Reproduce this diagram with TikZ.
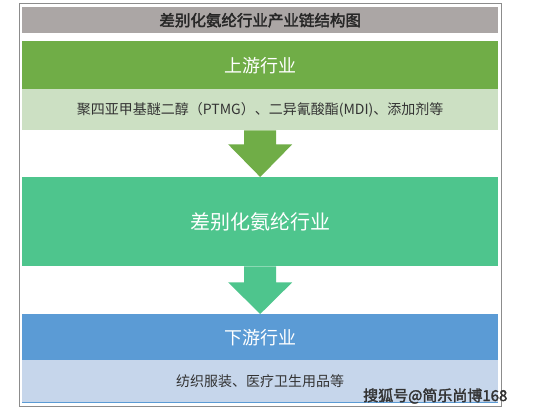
\documentclass[tikz,border=0pt]{standalone}
\usepackage{fontspec}
\newfontfamily\cjk{Noto Sans CJK SC}
\newfontfamily\cjkbold[FakeBold=2.2]{Noto Sans CJK SC}
\definecolor{frameGray}{HTML}{8C8C8C}
\definecolor{titleGray}{HTML}{ABA6A5}
\definecolor{upGreen}{HTML}{70AD47}
\definecolor{upLight}{HTML}{CCE0C3}
\definecolor{midGreen}{HTML}{4EC58D}
\definecolor{downBlue}{HTML}{5B9BD5}
\definecolor{downLight}{HTML}{C6D6EB}
\definecolor{textDark}{HTML}{333333}
\tikzset{
  band/.style={draw=none, minimum width=476pt, inner sep=0pt, anchor=north west},
  headtext/.style={text=white, font=\cjk\fontsize{18}{20}\selectfont},
  subtext/.style={text=textDark, font=\cjk\fontsize{14}{16}\selectfont},
}
\begin{document}
\begin{tikzpicture}[x=1pt,y=-1pt]
\useasboundingbox (0,0) rectangle (542,413);
\fill[white] (0,0) rectangle (542,413);
% outer frame
\draw[frameGray, line width=1pt] (19.5,3.5) rectangle (501,406);
% title
\node[band, fill=titleGray, minimum height=26pt, font=\cjkbold\fontsize{15.5}{18}\selectfont, text=black!85] (title) at (22,7) {差别化氨纶行业产业链结构图};
% upstream
\node[band, fill=upGreen, minimum height=48pt, headtext] (up) at (22,41) {上游行业};
\node[band, fill=upLight, minimum height=41pt, subtext] (upsub) at (22,89) {聚四亚甲基醚二醇（PTMG）、二异氰酸酯(MDI)、添加剂等};
% middle
\node[band, fill=midGreen, minimum height=89pt, text=white, font=\cjk\fontsize{20}{22}\selectfont] (mid) at (22,177) {差别化氨纶行业};
% downstream
\node[band, fill=downBlue, minimum height=46pt, headtext] (down) at (22,314) {下游行业};
\node[band, fill=downLight, minimum height=42pt, subtext] (downsub) at (22,360) {纺织服装、医疗卫生用品等};
\draw[downBlue, line width=1pt] (downsub.south west) -- (downsub.south east);
% arrows
\fill[upGreen] ([xshift=-16pt]upsub.south) -- ([xshift=16pt]upsub.south) -- ([xshift=16pt,yshift=-14pt]upsub.south) -- ([xshift=32pt,yshift=-14pt]upsub.south) -- (mid.north) -- ([xshift=-32pt,yshift=-14pt]upsub.south) -- ([xshift=-16pt,yshift=-14pt]upsub.south) -- cycle;
\fill[midGreen] ([xshift=-16pt]mid.south) -- ([xshift=16pt]mid.south) -- ([xshift=16pt,yshift=-16pt]mid.south) -- ([xshift=32pt,yshift=-16pt]mid.south) -- (down.north) -- ([xshift=-32pt,yshift=-16pt]mid.south) -- ([xshift=-16pt,yshift=-16pt]mid.south) -- cycle;
% watermark
\node[anchor=west, inner sep=0pt, font=\cjkbold\fontsize{15}{17}\selectfont, text=black!80] (wm) at (363,396) {搜狐号@简乐尚博168};
\end{tikzpicture}
\end{document}
